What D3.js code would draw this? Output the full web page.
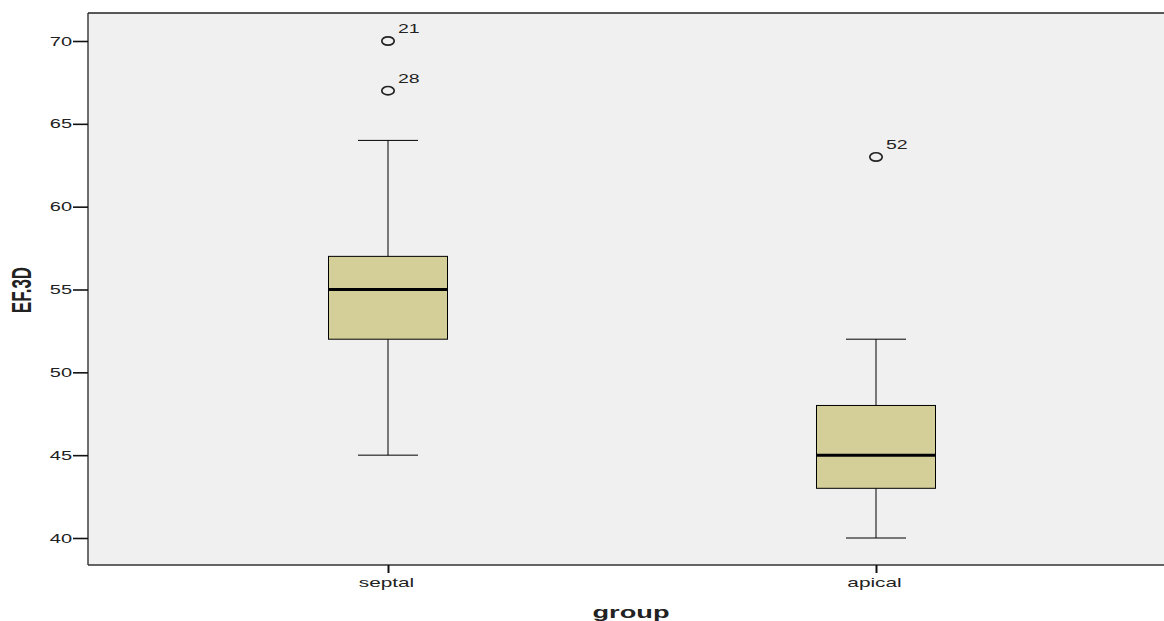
<!DOCTYPE html>
<html><head><meta charset="utf-8">
<script src="https://cdn.jsdelivr.net/npm/d3@7"></script>
<style>body{margin:0;background:#fff;}svg{display:block;font-family:Arial,"Liberation Sans",sans-serif;}</style>
</head><body>
<svg id="c" width="1164" height="621"></svg>
<script>
const categories = ["septal", "apical"];
const whiskerLow = [45, 40];
const q1 = [52, 43];
const median = [55, 45];
const q3 = [57, 48];
const whiskerHigh = [64, 52];
const outliers = [
  {group: "septal", value: 70, label: "21"},
  {group: "septal", value: 67, label: "28"},
  {group: "apical", value: 63, label: "52"}
];
const yTicks = [40, 45, 50, 55, 60, 65, 70];

const SX = 1.6; // horizontal stretch of the original picture
const svg = d3.select("#c");
const L = 88, T = 13, R = 1166, B = 565;
const y = d3.scaleLinear().domain([40, 70]).range([538, 41]);
const x = d3.scalePoint().domain(categories).range([388, 876]);

svg.append("rect").attr("x", L).attr("y", T).attr("width", R - L).attr("height", B - T).attr("fill", "#f0f0f0");
svg.append("line").attr("x1", L).attr("x2", R).attr("y1", T).attr("y2", T).attr("stroke", "#222").attr("stroke-width", 1.3);

const boxW = 119, capW = 60;
const g = svg.append("g");
categories.forEach((c, i) => {
  const cx = x(c);
  g.append("line").attr("x1", cx).attr("x2", cx).attr("y1", y(whiskerLow[i])).attr("y2", y(q1[i])).attr("stroke", "#000").attr("stroke-width", 1);
  g.append("line").attr("x1", cx).attr("x2", cx).attr("y1", y(q3[i])).attr("y2", y(whiskerHigh[i])).attr("stroke", "#000").attr("stroke-width", 1);
  [whiskerLow[i], whiskerHigh[i]].forEach(v => {
    g.append("line").attr("x1", cx - capW / 2).attr("x2", cx + capW / 2).attr("y1", y(v)).attr("y2", y(v)).attr("stroke", "#000").attr("stroke-width", 1);
  });
  g.append("rect").attr("x", cx - boxW / 2).attr("y", y(q3[i])).attr("width", boxW).attr("height", y(q1[i]) - y(q3[i]))
    .attr("fill", "#d4cf98").attr("stroke", "#000").attr("stroke-width", 1);
  g.append("line").attr("x1", cx - boxW / 2).attr("x2", cx + boxW / 2).attr("y1", y(median[i])).attr("y2", y(median[i])).attr("stroke", "#000").attr("stroke-width", 3);
});

outliers.forEach(o => {
  const cx = x(o.group), cy = y(o.value);
  g.append("ellipse").attr("cx", cx).attr("cy", cy).attr("rx", 6.2).attr("ry", 4.2).attr("fill", "none").attr("stroke", "#222").attr("stroke-width", 1.7);
  g.append("text").attr("transform", `translate(${cx + 10},${cy - 8}) scale(1.5,1)`).attr("font-size", 13).attr("fill", "#222").text(o.label);
});

const yAxis = svg.append("g").attr("transform", `translate(${L},0)`)
  .call(d3.axisLeft(y).tickValues(yTicks).tickSize(15).tickPadding(1));
yAxis.select(".domain").attr("d", `M0,${T}V${B}`).attr("stroke", "#222").attr("stroke-width", 1.3);
yAxis.selectAll(".tick line").attr("stroke", "#111").attr("stroke-width", 1.6);
yAxis.selectAll(".tick text").attr("font-size", 12.5).attr("fill", "#222").attr("font-family", "Arial,'Liberation Sans',sans-serif")
  .each(function() { const t = d3.select(this); t.attr("x", +t.attr("x") / SX).attr("transform", `scale(${SX},1)`); });

const xAxis = svg.append("g").attr("transform", `translate(0,${B})`)
  .call(d3.axisBottom(x).tickSize(8).tickPadding(5));
xAxis.select(".domain").attr("d", `M${L},0H${R}`).attr("stroke", "#333").attr("stroke-width", 1.6);
xAxis.selectAll(".tick line").attr("stroke", "#111").attr("stroke-width", 2);
xAxis.selectAll(".tick text").attr("font-size", 13).attr("fill", "#222").attr("font-family", "Arial,'Liberation Sans',sans-serif")
  .attr("transform", `translate(-2,0) scale(${SX},1)`);

svg.append("text").attr("transform", `translate(631,618) scale(${SX},1)`).attr("text-anchor", "middle").attr("font-size", 17).attr("font-weight", "bold").attr("fill", "#222").text("group");
svg.append("text").attr("transform", `translate(31,290) scale(${SX},1) rotate(-90)`).attr("text-anchor", "middle").attr("font-size", 17).attr("font-weight", "bold").attr("fill", "#222").text("EF.3D");
</script>
</body></html>
